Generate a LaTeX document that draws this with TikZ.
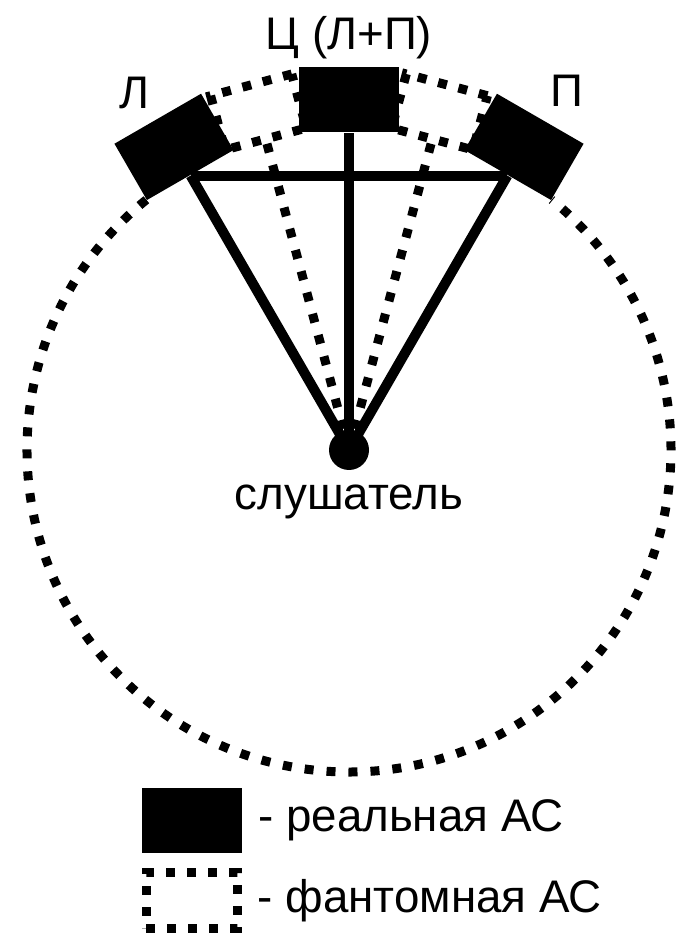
\documentclass[tikz,border=0pt]{standalone}
\usepackage{fontspec}
\setmainfont{Liberation Sans}
\usetikzlibrary{positioning}
\tikzset{
  speaker/.style={fill=black,minimum width=1cm,minimum height=0.65cm,inner sep=0pt},
  phantombox/.style={draw,line width=0.09cm,dash pattern=on 0.09cm off 0.12cm,
    minimum width=0.84cm,minimum height=0.56cm,inner sep=0pt},
  beam/.style={line width=0.1cm},
  dotline/.style={line width=0.09cm,dash pattern=on 0.09cm off 0.13cm},
  lbl/.style={font=\fontsize{13}{15}\selectfont,inner sep=0pt},
  keytext/.style={font=\fontsize{13}{15}\selectfont,inner sep=0pt}
}

\begin{document}
\begin{tikzpicture}
  \useasboundingbox (-3.49,-4.83) rectangle (3.36,4.50);
  \coordinate (O) at (0,0);

  \node[phantombox,rotate=15] (PL) at (105:3.5) {};
  \node[phantombox,rotate=-15] (PR) at (75:3.5) {};
  \draw[dotline] (O) -- (PL.south);
  \draw[dotline] (O) -- (PR.south);
  \draw[dotline] (129:3.22) arc[start angle=129,end angle=411,radius=3.22];

  \node[speaker,rotate=30] (L) at (120:3.5) {};
  \node[speaker] (C) at (90:3.5) {};
  \node[speaker,rotate=-30] (R) at (60:3.5) {};
  \draw[beam] (L.south) -- (R.south);
  \draw[beam] (O) -- (L.south);
  \draw[beam] (O) -- (C.south);
  \draw[beam] (O) -- (R.south);
  \fill (O) circle (0.2);

  \node[lbl,anchor=base] (listener) at (0,-0.6) {слушатель};
  \node[lbl,above=0.07cm of C] (Clabel) {Ц (Л+П)};
  \node[lbl] (Llabel) at (-2.15,3.57) {Л};
  \node[lbl] (Rlabel) at (2.18,3.59) {П};

  \node[speaker] (key1) at (-1.57,-3.705) {};
  \node[keytext,right=0.15cm of key1] {- реальная АС};
  \node[phantombox,minimum width=0.91cm] (key2) at (-1.57,-4.505) {};
  \node[keytext,right=0.15cm of key2] {- фантомная АС};
\end{tikzpicture}
\end{document}
